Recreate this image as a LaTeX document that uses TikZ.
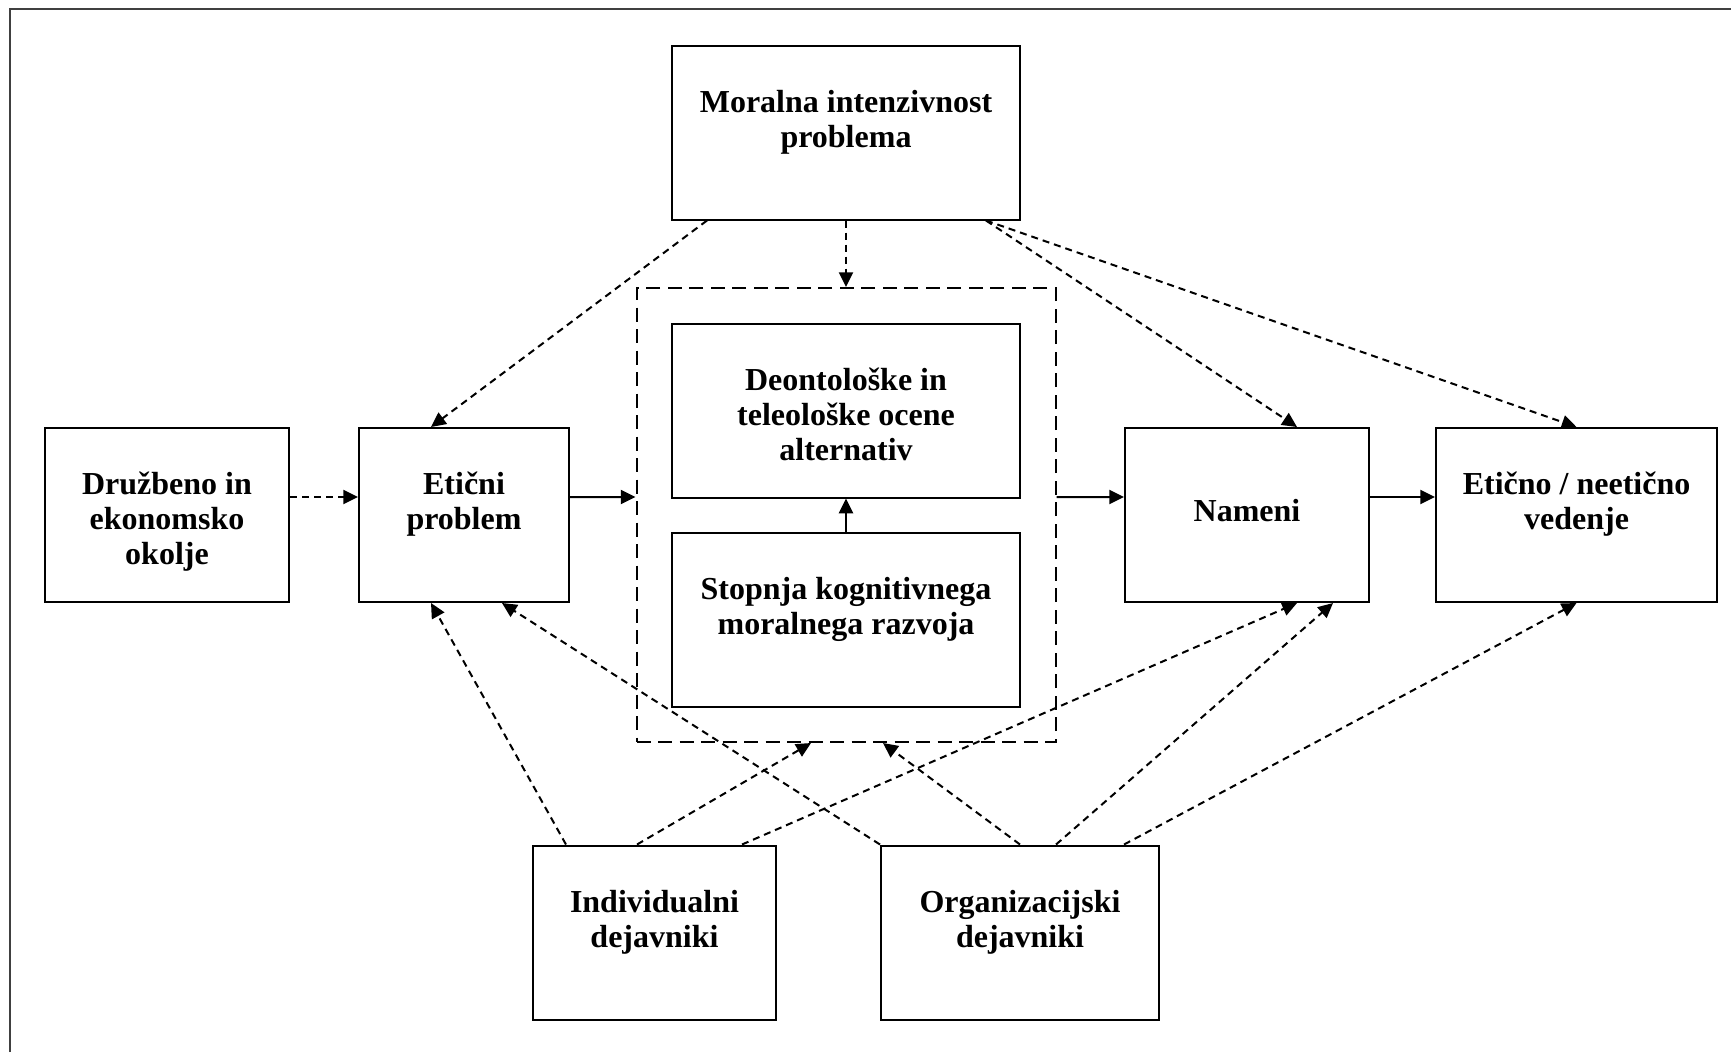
\documentclass[tikz,border=0pt]{standalone}
\usepackage{fontspec}
\setmainfont{Liberation Serif}
\usetikzlibrary{arrows.meta,fit}

\begin{document}
\begin{tikzpicture}[->,>={Triangle[length=5.9pt,width=5.6pt]},line width=0.8pt,font=\fontsize{12.8}{14}\selectfont\bfseries,
    box/.style={draw,rectangle,align=center,inner ysep=0pt,text height=40.6pt,text depth=29pt},
    trivrstice/.style={text height=54.7pt,text depth=14.9pt},
    vpliv/.style={dashed,dash pattern=on 2.8pt off 2pt}]
    \useasboundingbox (0,0) rectangle (692.4pt,-420.8pt);
    \draw[-,line width=1pt,black!75] (4pt,-420.8pt) -- (4pt,-3.6pt) -- (692.4pt,-3.6pt);
    \node (1) [box,trivrstice,minimum width=97.6pt] at (66.8pt,-206pt) {Družbeno in\\ekonomsko\\okolje};
    \node (2) [box,minimum width=84pt,right of=1,node distance=118.8pt] {Etični\\problem};
    \node (6) [box,minimum width=97.6pt,text height=37.5pt,text depth=32.1pt,right of=2,node distance=313.2pt] {Nameni};
    \node (7) [box,minimum width=112.4pt,right of=6,node distance=131.8pt] {Etično / neetično\\vedenje};
    \node (4) [box,minimum width=139.2pt] at (338.4pt,-247.8pt) {Stopnja kognitivnega\\moralnega razvoja};
    \node (3) [box,trivrstice,minimum width=139.2pt,above of=4,node distance=83.6pt] {Deontološke in\\teleološke ocene\\alternativ};
    \node (5) [box,minimum width=139.2pt,above of=3,node distance=111.2pt] {Moralna intenzivnost\\problema};
    \node (8) [box,minimum width=97.2pt] at (261.8pt,-373pt) {Individualni\\dejavniki};
    \node (9) [box,minimum width=111.2pt,right of=8,node distance=146.2pt] {Organizacijski\\dejavniki};
    \node (10) [draw,dashed,dash pattern=on 5.6pt off 3pt,fit=(3) (4),inner sep=13.8pt] {};
    \path
    ([yshift=7.2pt]1.east) edge[vpliv] ([yshift=7.2pt]2.west)
    ([yshift=7.2pt]2.east) edge ([yshift=7.2pt]10.west)
    ([yshift=7.2pt]10.east) edge ([yshift=7.2pt]6.west)
    ([yshift=7.2pt]6.east) edge ([yshift=7.2pt]7.west)
    (4) edge (3)
    ([xshift=-55.6pt]5.south) edge[vpliv] ([xshift=-13.2pt]2.north)
    (5.south) edge[vpliv] (10.north)
    ([xshift=56pt]5.south) edge[vpliv] ([xshift=20pt]6.north)
    ([xshift=56pt]5.south) edge[vpliv] (7.north)
    ([xshift=-35.4pt]8.north) edge[vpliv] ([xshift=-13.2pt]2.south)
    ([xshift=-7pt]8.north) edge[vpliv] ([xshift=-14pt]10.south)
    ([xshift=35pt]8.north) edge[vpliv] ([xshift=20pt]6.south)
    (9.north west) edge[vpliv] ([xshift=15.2pt]2.south)
    (9.north) edge[vpliv] ([xshift=14.8pt]10.south)
    ([xshift=14.4pt]9.north) edge[vpliv] ([xshift=34.4pt]6.south)
    ([xshift=41.6pt]9.north) edge[vpliv] (7.south)
    ;
\end{tikzpicture}
\end{document}
